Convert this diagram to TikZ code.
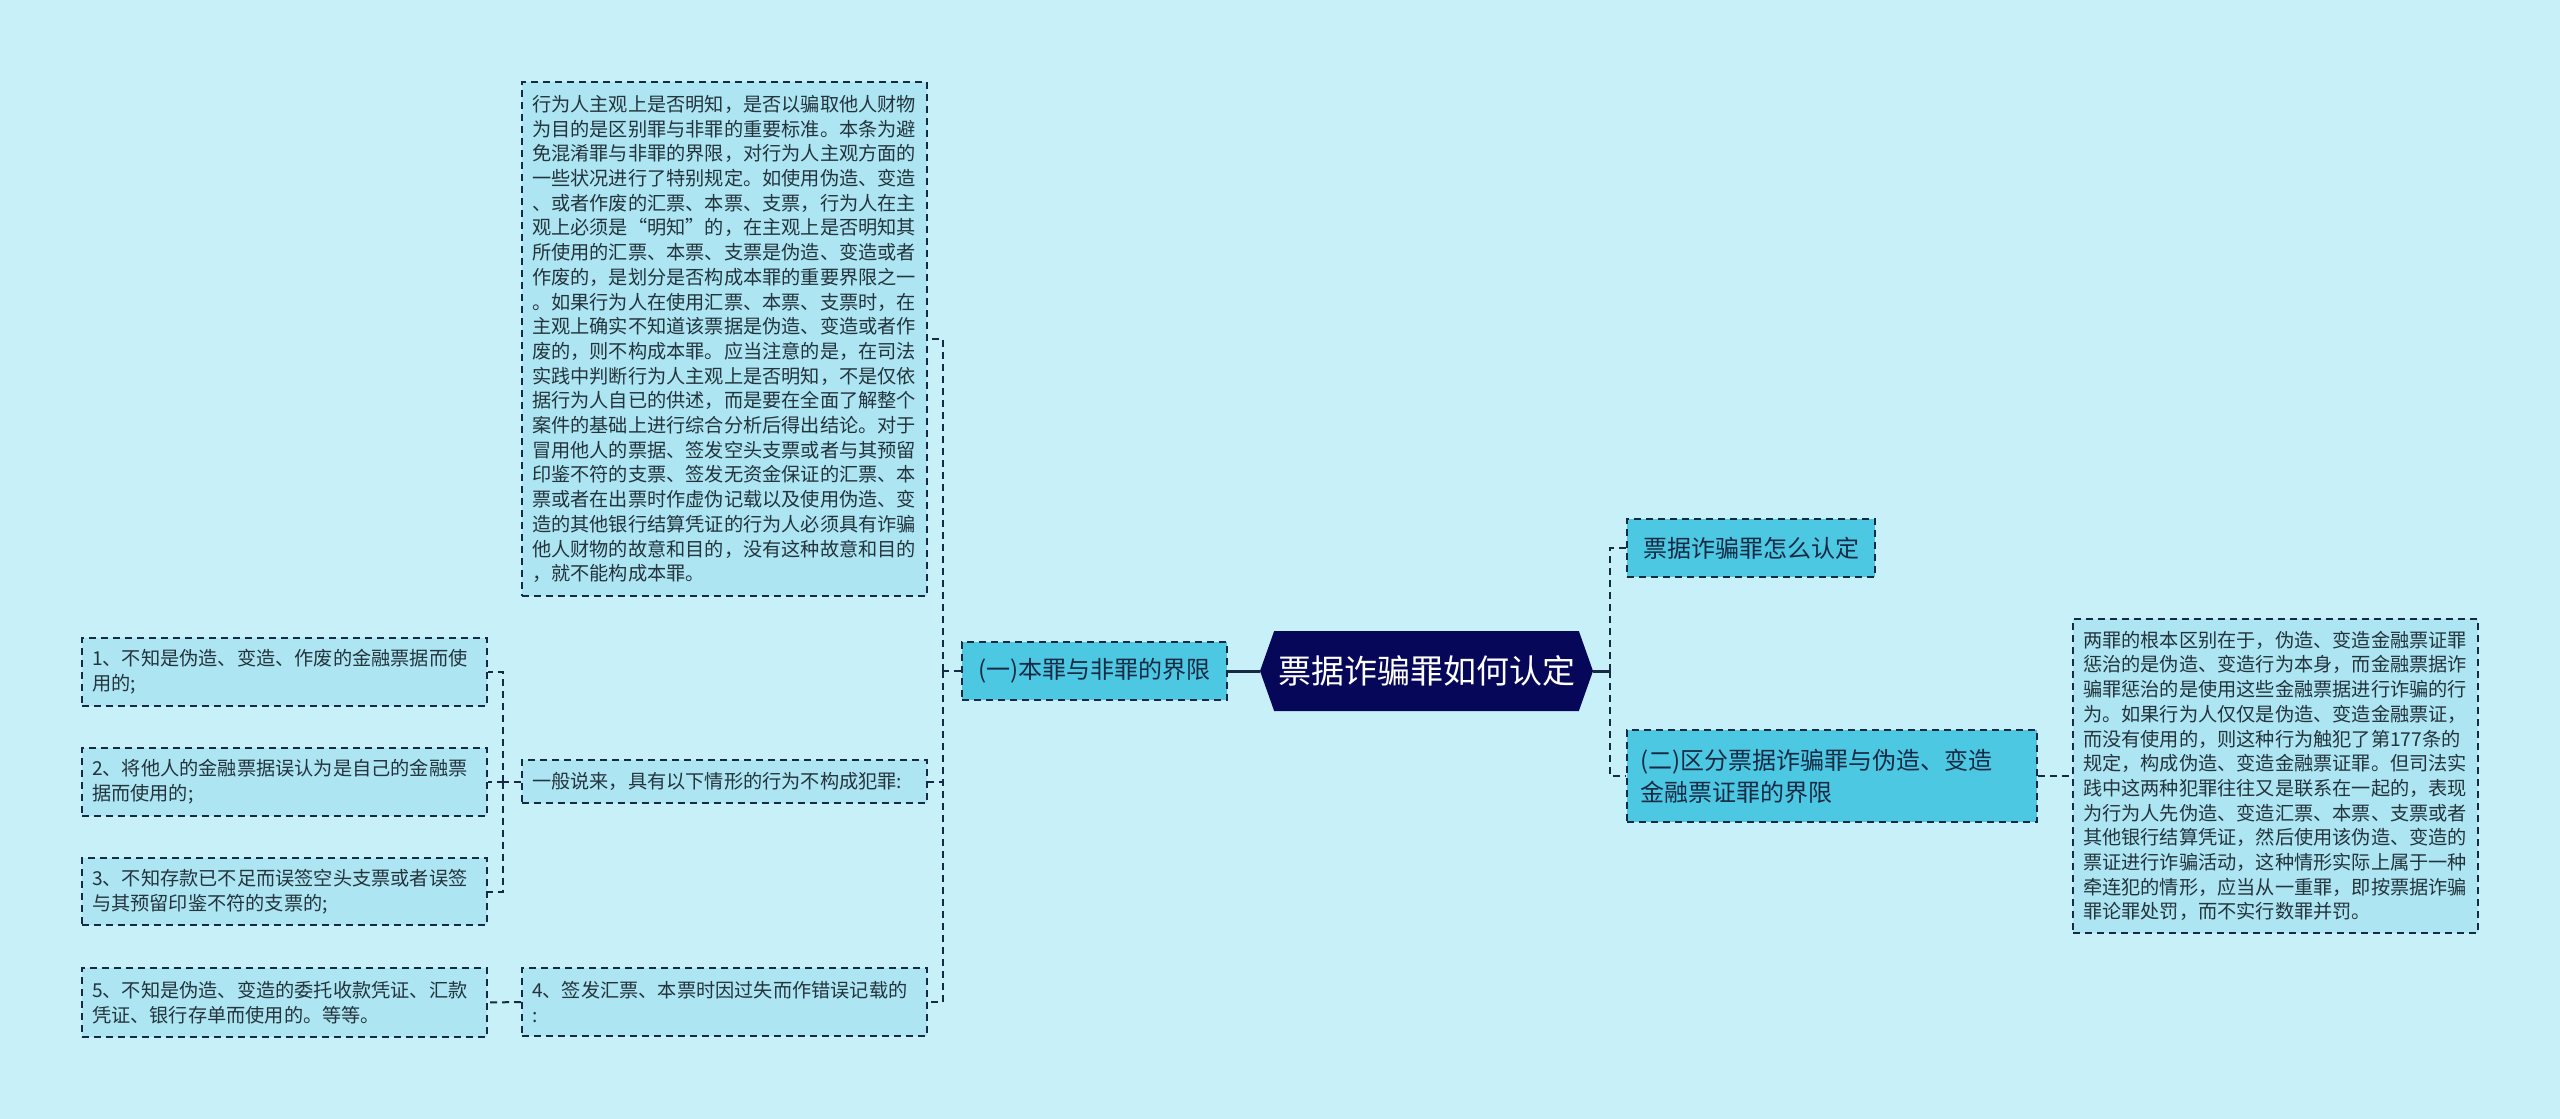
\documentclass[tikz,border=0pt]{standalone}
\usepackage{fontspec}
\setmainfont{Noto Sans CJK SC}
\usetikzlibrary{shapes.symbols}

\definecolor{bgcol}{HTML}{C8F0F8}
\definecolor{leafcol}{HTML}{ADE5F3}
\definecolor{seccol}{HTML}{4CC8E3}
\definecolor{rootcol}{HTML}{07075A}
\definecolor{linecol}{HTML}{172A44}
\definecolor{leaftext}{HTML}{24343C}

\begin{document}
\begin{tikzpicture}[
  x=0.5pt, y=-0.5pt,
  leaf/.style={
    draw=linecol, dash pattern=on 3.5pt off 2.5pt, line width=0.8pt,
    fill=leafcol, text=leaftext, align=left,
    font=\fontsize{9.6pt}{12.35pt}\selectfont,
    text width=192.5pt, inner xsep=5pt, inner ysep=0pt
  },
  sec/.style={
    draw=linecol, dash pattern=on 3.5pt off 2.5pt, line width=0.8pt,
    fill=seccol, text=linecol, align=left,
    font=\fontsize{12pt}{15.85pt}\selectfont,
    inner xsep=6.5pt, inner ysep=0pt, minimum height=29pt
  },
  root/.style={
    signal, signal to=west and east, signal pointer angle=141,
    fill=rootcol, text=white, inner sep=0pt,
    font=\fontsize{16.5pt}{20pt}\selectfont,
    minimum width=166.5pt, minimum height=40pt
  },
  link/.style={draw=linecol, line width=1pt, dash pattern=on 3.5pt off 2.5pt},
  stem/.style={draw=linecol, line width=1.5pt},
]
\fill[bgcol] (0,0) rectangle (2560,1119);
\useasboundingbox (0,0) rectangle (2560,1119);

% centre and main branches
\node[root] (root) at (1426.5,671) {票据诈骗罪如何认定};
\node[sec, minimum width=132.5pt] (sec1) at (1094.5,671) {(一)本罪与非罪的界限};
\node[sec, minimum width=124pt] (howto) at (1751,548) {票据诈骗罪怎么认定};
\node[sec, text width=192pt, minimum height=46pt] (sec2) at (1832,776)
  {(二)区分票据诈骗罪与伪造、变造\\金融票证罪的界限};

% details of the first branch
\node[leaf, minimum height=257pt] (intent) at (724.5,339) {%
行为人主观上是否明知，是否以骗取他人财物\\
为目的是区别罪与非罪的重要标准。本条为避\\
免混淆罪与非罪的界限，对行为人主观方面的\\
一些状况进行了特别规定。如使用伪造、变造\\
、或者作废的汇票、本票、支票，行为人在主\\
观上必须是“明知”的，在主观上是否明知其\\
所使用的汇票、本票、支票是伪造、变造或者\\
作废的，是划分是否构成本罪的重要界限之一\\
。如果行为人在使用汇票、本票、支票时，在\\
主观上确实不知道该票据是伪造、变造或者作\\
废的，则不构成本罪。应当注意的是，在司法\\
实践中判断行为人主观上是否明知，不是仅依\\
据行为人自已的供述，而是要在全面了解整个\\
案件的基础上进行综合分析后得出结论。对于\\
冒用他人的票据、签发空头支票或者与其预留\\
印鉴不符的支票、签发无资金保证的汇票、本\\
票或者在出票时作虚伪记载以及使用伪造、变\\
造的其他银行结算凭证的行为人必须具有诈骗\\
他人财物的故意和目的，没有这种故意和目的\\
，就不能构成本罪。};
\node[leaf, minimum height=21.5pt] (general) at (724.5,781.5) {一般说来，具有以下情形的行为不构成犯罪:};
\node[leaf, minimum height=34pt] (item4) at (724.5,1002) {4、签发汇票、本票时因过失而作错误记载的\\:};

\node[leaf, minimum height=34pt] (item1) at (284.5,672) {1、不知是伪造、变造、作废的金融票据而使\\用的;};
\node[leaf, minimum height=34pt] (item2) at (284.5,782) {2、将他人的金融票据误认为是自己的金融票\\据而使用的;};
\node[leaf, minimum height=33.5pt] (item3) at (284.5,891.5) {3、不知存款已不足而误签空头支票或者误签\\与其预留印鉴不符的支票的;};
\node[leaf, minimum height=34.5pt] (item5) at (284.5,1002.5) {5、不知是伪造、变造的委托收款凭证、汇款\\凭证、银行存单而使用的。等等。};

% details of the second branch
\node[leaf, minimum height=157pt] (diff) at (2275.5,776) {%
两罪的根本区别在于，伪造、变造金融票证罪\\
惩治的是伪造、变造行为本身，而金融票据诈\\
骗罪惩治的是使用这些金融票据进行诈骗的行\\
为。如果行为人仅仅是伪造、变造金融票证，\\
而没有使用的，则这种行为触犯了第177条的\\
规定，构成伪造、变造金融票证罪。但司法实\\
践中这两种犯罪往往又是联系在一起的，表现\\
为行为人先伪造、变造汇票、本票、支票或者\\
其他银行结算凭证，然后使用该伪造、变造的\\
票证进行诈骗活动，这种情形实际上属于一种\\
牵连犯的情形，应当从一重罪，即按票据诈骗\\
罪论罪处罚，而不实行数罪并罚。};

% connectors
\coordinate (rj) at (1610,671);
\coordinate (lj) at (943,671);
\coordinate (gj) at (503,781.5);
\draw[stem] (root.west) -- (sec1.east);
\draw[stem] (root.east) -- (rj);
\draw[link] (rj) |- (howto.west);
\draw[link] (rj) |- (sec2.west);
\draw[link] (sec1.west) -- (lj);
\draw[link] (lj) |- (intent.east);
\draw[link] (lj) |- (general.east);
\draw[link] (lj) |- (item4.east);
\draw[link] (general.west) -- (gj);
\draw[link] (gj) |- (item1.east);
\draw[link] (gj) |- (item2.east);
\draw[link] (gj) |- (item3.east);
\draw[link] (item4.west) -- (item5.east);
\draw[link] (sec2.east) -- (diff.west);
\end{tikzpicture}
\end{document}
